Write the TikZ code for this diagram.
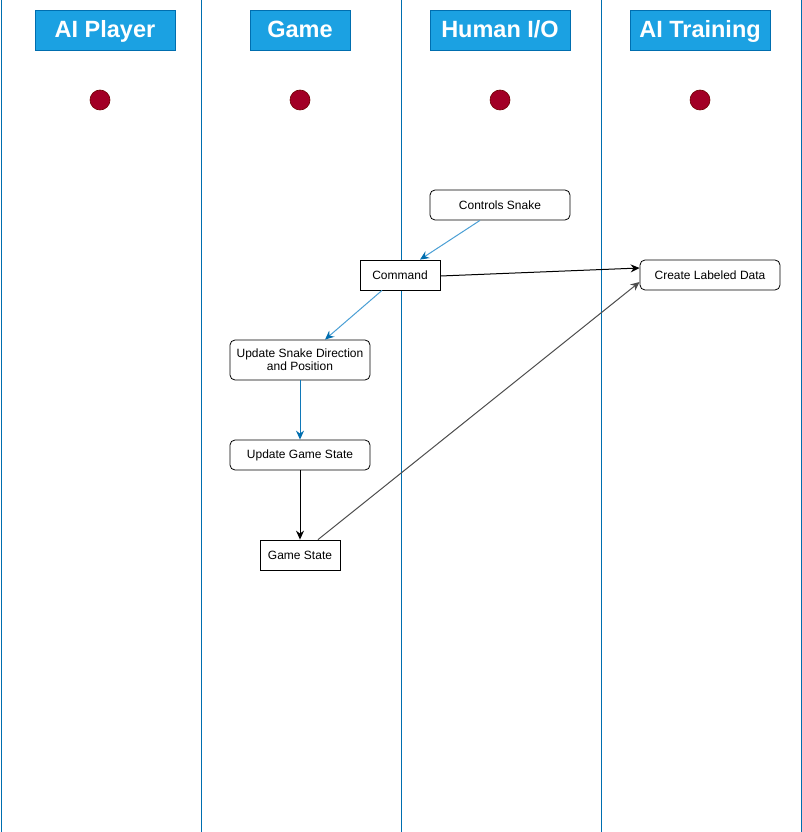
\documentclass[tikz,border=0pt]{standalone}
\usepackage{fontspec}
\setmainfont{Liberation Sans}
\usetikzlibrary{arrows.meta}
\definecolor{laneblue}{HTML}{006EAF}
\definecolor{hdrfill}{HTML}{1BA1E2}
\definecolor{dotfill}{HTML}{A20025}
\definecolor{dotline}{HTML}{6F0000}
\definecolor{flowblue}{HTML}{4A9FD5}
\definecolor{darkblue}{HTML}{1078B8}
\definecolor{greyline}{HTML}{4D4D4D}
\tikzset{
  hdr/.style={draw=laneblue, fill=hdrfill, text=white, font=\fontsize{23.5}{26}\selectfont\bfseries, minimum height=40pt, inner sep=0pt, text height=20pt, text depth=4pt, line width=0.8pt},
  dot/.style={circle, draw=dotline, fill=dotfill, minimum size=20pt, inner sep=0pt, line width=0.6pt},
  rbox/.style={draw=black, fill=white, rounded corners=5pt, minimum height=30pt, minimum width=140pt, inner sep=1pt, align=center, font=\fontsize{12}{14}\selectfont, line width=0.8pt},
  sbox/.style={draw=black, fill=white, minimum height=30pt, minimum width=80pt, inner sep=1pt, align=center, font=\fontsize{12}{14}\selectfont, line width=0.8pt},
  lanel/.style={draw=laneblue, line width=0.9pt},
  tip/.style={-{Stealth[length=9pt,width=8pt,inset=3pt]}, line width=1pt},
  blueflow/.style={line width=1pt, draw=flowblue, -{Stealth[length=9pt,width=8pt,inset=3pt,fill=laneblue,color=laneblue]}},
  dblueflow/.style={line width=1pt, draw=darkblue, -{Stealth[length=9pt,width=8pt,inset=3pt,fill=laneblue,color=laneblue]}},
}
\begin{document}
\begin{tikzpicture}[x=1pt,y=-1pt]
\useasboundingbox (0,0) rectangle (802,832);
\fill[white] (0,0) rectangle (802,832);
% lanes
\foreach \i/\x in {0/1,1/201,2/401,3/601,4/801}{
  \coordinate (lt\i) at (\x,0);
  \coordinate (lb\i) at (\x,832);
  \draw[lanel] (lt\i) -- (lb\i);
}
% headers
\node[hdr, minimum width=140pt] (h1) at (105,30) {AI Player};
\node[hdr, minimum width=100pt] (h2) at (300,30) {Game};
\node[hdr, minimum width=140pt] (h3) at (500,30) {Human I/O};
\node[hdr, minimum width=140pt] (h4) at (700,30) {AI Training};
% dots
\node[dot] (d1) at (100,100) {};
\node[dot] (d2) at (300,100) {};
\node[dot] (d3) at (500,100) {};
\node[dot] (d4) at (700,100) {};
% boxes
\node[rbox] (controls) at (500,205) {Controls Snake};
\node[sbox] (command) at (400,275) {Command};
\node[rbox] (labeled) at (710,275) {Create Labeled Data};
\node[rbox, minimum height=40pt] (update) at (300,360) {Update Snake Direction\\[-1pt]and Position};
\node[rbox] (ugs) at (300,455) {Update Game State};
\node[sbox] (gs) at (300,555) {Game State};
% connectors
\draw[blueflow] ([xshift=-20pt]controls.south) -- ([xshift=20pt]command.north);
\draw[blueflow] ([xshift=-18pt]command.south) -- ([xshift=25pt]update.north);
\draw[dblueflow] (update.south) -- (ugs.north);
\draw[tip, draw=black] ([yshift=-1pt]command.east) -- ([yshift=7pt]labeled.west);
\draw[tip, draw=black] (ugs.south) -- (gs.north);
\draw[tip, draw=greyline] ([xshift=18pt]gs.north) -- ([yshift=-7pt]labeled.west);
\end{tikzpicture}
\end{document}
